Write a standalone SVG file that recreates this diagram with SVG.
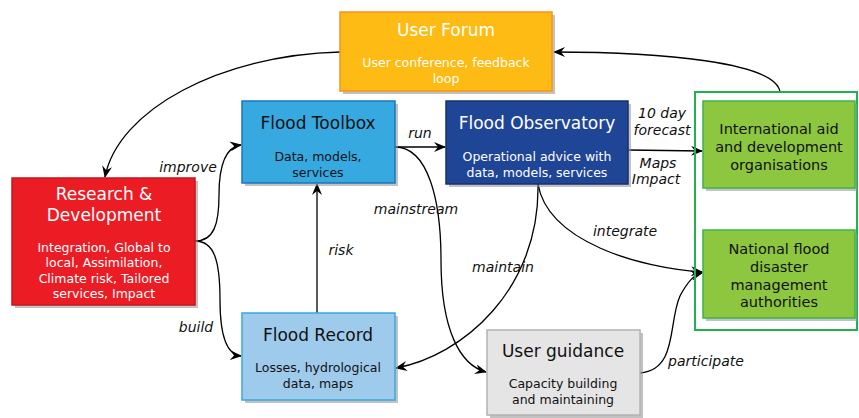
<svg xmlns="http://www.w3.org/2000/svg" width="859" height="418" viewBox="0 0 859 418">
<defs>
<marker id="ah" viewBox="0 0 12 10" refX="11" refY="5" markerWidth="12" markerHeight="10" markerUnits="userSpaceOnUse" orient="auto">
<path d="M0,0 L12,5 L0,10 L4,5 Z" fill="#000"/>
</marker>
</defs>
<style>
text{font-family:"DejaVu Sans","Verdana",sans-serif;text-anchor:middle}
.t{font-size:17px}
.s{font-size:12.5px}
.g{font-size:14.5px;fill:#111}
.w{fill:#fff}
.k{fill:#111}
.lbl{font-size:14px;font-style:italic;fill:#111}
.sh{fill:#999;opacity:0.6}
.c{fill:none;stroke:#000;stroke-width:1.3;marker-end:url(#ah)}
</style>
<rect width="859" height="418" fill="#fff"/>
<g id="connectors">
<path class="c" d="M340,52 C220,55 118,110 105,177"/>
<path class="c" d="M780,92 C776,62 660,52 554,52"/>
<path class="c" d="M195,241 C214,241 219,224 219,195 C219,163 226,147 241,145"/>
<path class="c" d="M195,241 C214,241 220,260 220,300 C220,340 228,355 241,356"/>
<path class="c" d="M395,147 L445,147"/>
<path class="c" d="M317,313 L317,184"/>
<path class="c" d="M628,150 L702,151"/>
<path class="c" d="M395,147 C428,147 441,200 441,260 C441,330 460,365 486,372"/>
<path class="c" d="M538,184 C540,290 462,356 396,368"/>
<path class="c" d="M538,184 C548,242 640,268 702,272"/>
<path class="c" d="M640,373 C678,370 668,322 680,296 C688,281 694,275 702,273"/>
<text class="lbl" x="188" y="172">improve</text>
<text class="lbl" x="196" y="332">build</text>
<text class="lbl" x="420" y="138">run</text>
<text class="lbl" x="341" y="255">risk</text>
<text class="lbl" x="416" y="214">mainstream</text>
<text class="lbl" x="503" y="272">maintain</text>
<text class="lbl" x="625" y="236">integrate</text>
<text class="lbl" x="706" y="366">participate</text>
<text class="lbl" x="662" y="118">10 day</text>
<text class="lbl" x="662" y="135">forecast</text>
<text class="lbl" x="658" y="168">Maps</text>
<text class="lbl" x="656" y="184">Impact</text>
</g>
<g id="user-forum">
<rect class="sh" x="343" y="15" width="212" height="79"/>
<rect x="340" y="12" width="212" height="79" fill="#FDBB13" stroke="#F7941E" stroke-width="1.5"/>
<text class="t w" x="446" y="36">User Forum</text>
<text class="s w" x="446" y="67">User conference, feedback</text>
<text class="s w" x="446" y="83">loop</text>
</g>
<g id="research-development">
<rect class="sh" x="15" y="181" width="183" height="127"/>
<rect x="12" y="178" width="183" height="127" fill="#EC1C24" stroke="#C4161C" stroke-width="1.5"/>
<text class="t w" x="104" y="200">Research &amp;</text>
<text class="t w" x="104" y="221">Development</text>
<text class="s w" x="104" y="252">Integration, Global to</text>
<text class="s w" x="104" y="267">local, Assimilation,</text>
<text class="s w" x="104" y="283">Climate risk, Tailored</text>
<text class="s w" x="104" y="298">services, Impact</text>
</g>
<g id="flood-toolbox">
<rect class="sh" x="245" y="104" width="153" height="82"/>
<rect x="242" y="101" width="153" height="82" fill="#36A9E1" stroke="#1B75BB" stroke-width="1.5"/>
<text class="t k" x="318" y="129">Flood Toolbox</text>
<text class="s k" x="318" y="161">Data, models,</text>
<text class="s k" x="318" y="177">services</text>
</g>
<g id="flood-observatory">
<rect class="sh" x="449" y="104" width="182" height="83"/>
<rect x="446" y="101" width="182" height="83" fill="#1F4597" stroke="#16306E" stroke-width="1.5"/>
<text class="t w" x="537" y="129">Flood Observatory</text>
<text class="s w" x="537" y="161">Operational advice with</text>
<text class="s w" x="537" y="177">data, models, services</text>
</g>
<g id="flood-record">
<rect class="sh" x="245" y="316" width="153" height="87"/>
<rect x="242" y="313" width="153" height="87" fill="#9ECAEC" stroke="#36A9E1" stroke-width="1.5"/>
<text class="t k" x="318" y="341">Flood Record</text>
<text class="s k" x="318" y="372">Losses, hydrological</text>
<text class="s k" x="318" y="388">data, maps</text>
</g>
<g id="user-guidance">
<rect class="sh" x="490" y="333" width="153" height="85"/>
<rect x="487" y="330" width="153" height="85" fill="#E5E5E5" stroke="#B3B3B3" stroke-width="1.5"/>
<text class="t k" x="563" y="357">User guidance</text>
<text class="s k" x="563" y="388">Capacity building</text>
<text class="s k" x="563" y="404">and maintaining</text>
</g>
<g id="stakeholders">
<rect x="695" y="92" width="162" height="238" fill="none" stroke="#22B14C" stroke-width="2"/>
</g>
<g id="international-aid">
<rect class="sh" x="706" y="104" width="151" height="87"/>
<rect x="703" y="101" width="152" height="87" fill="#8DC63F" stroke="#39B54A" stroke-width="1.5"/>
<text class="g" x="779" y="134">International aid</text>
<text class="g" x="779" y="152">and development</text>
<text class="g" x="779" y="170">organisations</text>
</g>
<g id="national-flood">
<rect class="sh" x="706" y="233" width="151" height="88"/>
<rect x="703" y="230" width="152" height="88" fill="#8DC63F" stroke="#39B54A" stroke-width="1.5"/>
<text class="g" x="779" y="254">National flood</text>
<text class="g" x="779" y="272">disaster</text>
<text class="g" x="779" y="290">management</text>
<text class="g" x="779" y="307">authorities</text>
</g>
</svg>
